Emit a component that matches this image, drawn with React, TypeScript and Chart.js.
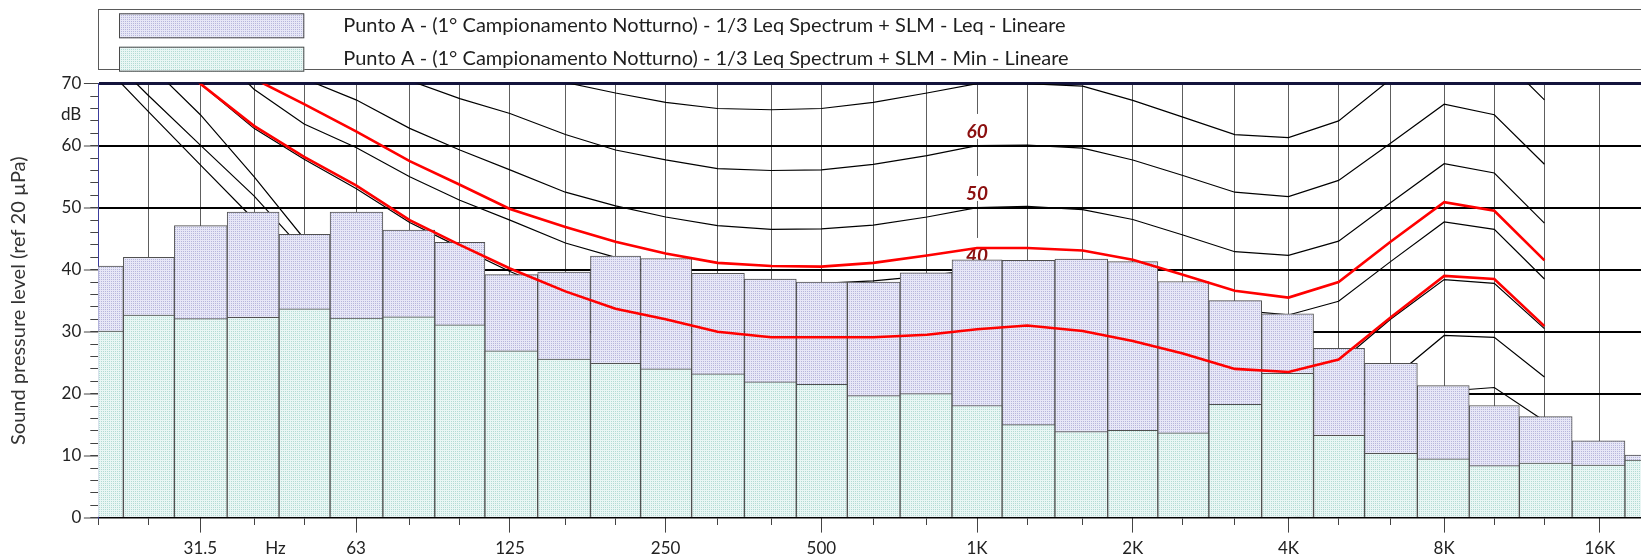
import React, { useEffect, useRef } from 'react';
import { Chart, registerables } from 'chart.js';

Chart.register(...registerables);

// 1/3-octave band centre frequencies (Hz)
const BAND_FREQS = [20, 25, 31.5, 40, 50, 63, 80, 100, 125, 160, 200, 250, 315, 400, 500, 630, 800, 1000, 1250, 1600, 2000, 2500, 3150, 4000, 5000, 6300, 8000, 10000, 12500, 16000, 20000];
// Leq spectrum (dB)
const LEQ = [40.6, 42.0, 47.1, 49.3, 45.7, 49.3, 46.4, 44.4, 39.2, 39.6, 42.2, 41.8, 39.4, 38.5, 38.0, 38.0, 39.5, 41.6, 41.5, 41.7, 41.3, 38.1, 35.0, 32.9, 27.3, 24.9, 21.3, 18.1, 16.3, 12.4, 10.1];
// Min spectrum (dB)
const MIN = [30.1, 32.7, 32.1, 32.3, 33.7, 32.2, 32.4, 31.1, 26.9, 25.6, 24.9, 24.0, 23.2, 21.9, 21.5, 19.7, 20.0, 18.1, 15.0, 13.9, 14.1, 13.7, 18.3, 23.3, 13.3, 10.4, 9.5, 8.4, 8.8, 8.5, 9.3];

// contour curves, 20 Hz .. 12.5 kHz
const CONTOUR_FREQS = [20, 25, 31.5, 40, 50, 63, 80, 100, 125, 160, 200, 250, 315, 400, 500, 630, 800, 1000, 1250, 1600, 2000, 2500, 3150, 4000, 5000, 6300, 8000, 10000, 12500];
const C0 = [73.9, 65.5, 56.9, 48.1, 40.0, 32.5, 26.0, 20.0, 14.0, 10.0, 7.0, 5.0, 3.5, 2.5, 2.0, 2.0, 2.5, 3.5, 3.5, 3.0, 1.5, 0.5, 0.0, 0.0, 1.0, 6.0, 13.0, 14.0, 8.0];
const C10 = [76.1, 68.1, 60.1, 51.9, 43.0, 35.5, 29.0, 24.0, 20.0, 16.0, 13.0, 11.0, 9.5, 8.3, 7.5, 7.8, 8.7, 10.0, 10.2, 9.7, 8.2, 5.8, 3.2, 2.5, 4.8, 12.5, 20.4, 21.0, 15.6];
const C20 = [80.0, 73.2, 65.0, 55.0, 45.0, 40.0, 35.0, 31.0, 28.0, 24.5, 21.5, 19.5, 17.8, 17.0, 16.8, 17.3, 18.5, 20.0, 20.2, 19.7, 18.2, 15.8, 13.2, 12.5, 14.8, 22.2, 29.4, 29.1, 22.7];
const C30 = [90.0, 80.0, 70.0, 62.8, 57.8, 53.1, 47.6, 43.6, 39.7, 36.0, 33.2, 31.4, 29.6, 28.7, 28.7, 28.8, 29.2, 30.0, 30.5, 29.7, 28.0, 26.0, 23.5, 23.0, 24.9, 32.0, 38.4, 37.8, 30.5];
const C40 = [95.0, 87.0, 78.0, 69.1, 63.5, 59.7, 55.0, 51.2, 48.0, 44.3, 42.0, 39.8, 38.3, 37.8, 37.8, 38.2, 39.0, 40.0, 40.3, 39.8, 38.3, 36.0, 33.5, 32.7, 34.9, 41.3, 47.7, 46.5, 38.5];
const C50 = [100.0, 92.0, 84.0, 76.0, 70.8, 67.4, 62.8, 59.3, 56.1, 52.5, 50.3, 48.5, 47.1, 46.5, 46.6, 47.2, 48.5, 50.0, 50.2, 49.7, 48.1, 45.6, 42.9, 42.3, 44.6, 50.8, 57.1, 55.6, 47.5];
const C60 = [104.0, 98.0, 91.0, 85.0, 79.5, 74.5, 70.5, 67.6, 65.2, 61.8, 59.3, 57.7, 56.3, 56.0, 56.1, 57.0, 58.4, 60.0, 60.1, 59.6, 57.7, 55.2, 52.5, 51.8, 54.4, 60.4, 66.7, 65.0, 57.0];
const C70 = [108.0, 104.0, 99.0, 94.0, 89.0, 84.0, 80.0, 76.5, 73.0, 70.2, 68.5, 67.0, 66.0, 65.8, 66.0, 67.0, 68.5, 70.0, 70.0, 69.6, 67.3, 64.6, 61.8, 61.3, 64.0, 70.7, 76.8, 75.4, 67.4];
const RED_UPPER = [95.0, 88.0, 79.0, 70.8, 66.7, 62.3, 57.5, 53.7, 49.8, 46.9, 44.5, 42.6, 41.1, 40.6, 40.5, 41.1, 42.3, 43.5, 43.5, 43.1, 41.6, 39.2, 36.6, 35.5, 38.0, 44.5, 50.9, 49.5, 41.5];
const RED_LOWER = [90.0, 80.0, 70.0, 63.2, 58.2, 53.6, 48.0, 44.0, 40.2, 36.5, 33.7, 32.0, 30.0, 29.1, 29.1, 29.1, 29.5, 30.4, 31.0, 30.1, 28.5, 26.5, 24.0, 23.5, 25.5, 32.3, 39.0, 38.5, 30.9];
const BLACK_CONTOURS = [C0, C10, C20, C30, C40, C50, C60, C70];

// labels on the contours at 1 kHz
const CONTOUR_LABELS = ['60', '50', '40'];
const CONTOUR_LABEL_LEVELS = [60, 50, 40];
const CONTOUR_LABEL_FREQ = 1000;

// axis ticks
const X_MAJOR_TICKS = [31.5, 63, 125, 250, 500, 1000, 2000, 4000, 8000, 16000];
const X_MAJOR_LABELS = ['31.5', '63', '125', '250', '500', '1K', '2K', '4K', '8K', '16K'];
const X_UNIT_POS = 44;
const X_UNIT_LABEL = 'Hz';
const X_MIN = 20;
const X_MAX = 19214;
const Y_MAJOR_TICKS = [0, 10, 20, 30, 40, 50, 60, 70];
const Y_UNIT_POS = 65;
const Y_UNIT_LABEL = 'dB';

const LEGEND_LEQ = 'Punto A - (1\u00B0 Campionamento Notturno) - 1/3 Leq Spectrum + SLM - Leq - Lineare';
const LEGEND_MIN = 'Punto A - (1\u00B0 Campionamento Notturno) - 1/3 Leq Spectrum + SLM - Min - Lineare';
const Y_TITLE = 'Sound pressure level (ref 20 \u00B5Pa)';

const FONT = 'Lato';

function makePattern(base: string, dot: string) {
  const c = document.createElement('canvas');
  c.width = 2;
  c.height = 2;
  const g = c.getContext('2d') as CanvasRenderingContext2D;
  g.fillStyle = base;
  g.fillRect(0, 0, 2, 2);
  g.fillStyle = dot;
  g.fillRect(1, 1, 1, 1);
  return g.createPattern(c, 'repeat') as CanvasPattern;
}

const boxLegend = {
  id: 'boxLegend',
  afterDraw(chart: any) {
    const ctx = chart.ctx;
    const left = chart.chartArea.left;
    ctx.save();
    ctx.strokeStyle = '#5a5a5a';
    ctx.lineWidth = 1;
    ctx.strokeRect(Math.round(left) + 0.5, 9.5, chart.width + 20, 60);
    const items = [chart.data.datasets.find((d: any) => d.label === LEGEND_LEQ), chart.data.datasets.find((d: any) => d.label === LEGEND_MIN)];
    const tops = [13.3, 46.7];
    items.forEach((ds: any, i: number) => {
      const top = tops[i];
      ctx.fillStyle = ds.backgroundColor;
      ctx.fillRect(left + 20.7, top, 185.3, 25);
      ctx.strokeStyle = '#4a4a4a';
      ctx.lineWidth = 1;
      ctx.strokeRect(left + 20.7 + 0.5, top + 0.5, 185.3 - 1, 24);
      ctx.fillStyle = '#1e1e1e';
      ctx.font = `20px ${FONT}`;
      ctx.textBaseline = 'middle';
      ctx.textAlign = 'left';
      ctx.fillText(ds.label, left + 245, top + 12.2);
    });
    ctx.restore();
  },
};

const contourLabels = {
  id: 'contourLabels',
  beforeDatasetDraw(chart: any, args: any) {
    const ds = chart.data.datasets[args.index];
    if (!ds || ds.label !== LEGEND_LEQ) return;
    const ctx = chart.ctx;
    const xs = chart.scales.x;
    const ys = chart.scales.y;
    const cx = xs.getPixelForValue(CONTOUR_LABEL_FREQ);
    ctx.save();
    ctx.font = `italic bold 19px ${FONT}`;
    ctx.textAlign = 'center';
    ctx.textBaseline = 'middle';
    CONTOUR_LABELS.forEach((t, i) => {
      const cy = ys.getPixelForValue(CONTOUR_LABEL_LEVELS[i] + 2.3);
      const w = ctx.measureText(t).width;
      ctx.fillStyle = '#ffffff';
      ctx.fillRect(cx - w / 2 - 3, cy - 17.5, w + 6, 25);
      ctx.fillStyle = '#8b0f0f';
      ctx.fillText(t, cx, cy);
    });
    ctx.restore();
  },
};

export default function App() {
  const canvasRef = useRef<HTMLCanvasElement | null>(null);

  useEffect(() => {
    const canvas = canvasRef.current;
    if (!canvas) return;
    const leqPattern = makePattern('#e7e7f6', '#b6b6dc');
    const minPattern = makePattern('#e9f6f4', '#b2dbd5');

    const xLabel = (v: number) => {
      if (v === X_UNIT_POS) return X_UNIT_LABEL;
      const i = X_MAJOR_TICKS.indexOf(v);
      return i >= 0 ? X_MAJOR_LABELS[i] : '';
    };

    const blackSets = BLACK_CONTOURS.map((arr) => ({
      type: 'line',
      label: '',
      data: CONTOUR_FREQS.map((f, i) => ({ x: f, y: arr[i] })),
      borderColor: '#000000',
      borderWidth: 1.2,
      pointRadius: 0,
      tension: 0,
      fill: false,
      order: 4,
    }));
    const redSets = [RED_UPPER, RED_LOWER].map((arr) => ({
      type: 'line',
      label: '',
      data: CONTOUR_FREQS.map((f, i) => ({ x: f, y: arr[i] })),
      borderColor: '#ff0000',
      borderWidth: 2.6,
      pointRadius: 0,
      tension: 0,
      fill: false,
      order: 1,
    }));
    const barCommon = {
      type: 'bar',
      stack: 'spectrum',
      barThickness: 'flex',
      categoryPercentage: 1,
      barPercentage: 1,
      borderWidth: 1,
      borderColor: '#505050',
      borderSkipped: 'start',
      clip: 0,
    };

    const chart = new Chart(canvas, {
      type: 'bar',
      data: {
        datasets: [
          ...blackSets,
          { ...barCommon, label: LEGEND_LEQ, data: BAND_FREQS.map((f, i) => ({ x: f, y: LEQ[i] })), backgroundColor: leqPattern, order: 3 },
          { ...barCommon, label: LEGEND_MIN, data: BAND_FREQS.map((f, i) => ({ x: f, y: MIN[i] })), backgroundColor: minPattern, order: 2 },
          ...redSets,
        ] as any,
      },
      options: {
        responsive: false,
        animation: false,
        devicePixelRatio: 1,
        layout: { padding: { top: 83.7, left: 0, right: 0, bottom: 0 } },
        plugins: { legend: { display: false }, tooltip: { enabled: false } },
        scales: {
          x: {
            type: 'logarithmic',
            min: X_MIN,
            max: X_MAX,
            offset: false,
            afterBuildTicks: (s: any) => {
              const vals = BAND_FREQS.filter((f) => f <= X_MAX).concat([X_UNIT_POS]).sort((a, b) => a - b);
              s.ticks = vals.map((v) => ({ value: v }));
            },
            afterFit: (s: any) => { s.height = 38.3; },
            ticks: {
              autoSkip: false,
              maxRotation: 0,
              minRotation: 0,
              padding: 13,
              color: '#222222',
              font: { family: FONT, size: 17 },
              callback: (v: any) => xLabel(Number(v)),
            },
            grid: {
              offset: false,
              color: (c: any) => (c.tick && c.tick.value === X_UNIT_POS ? 'rgba(0,0,0,0)' : '#5e5e5e'),
              lineWidth: 1,
              tickLength: 7.3,
              tickWidth: 1,
              tickColor: (c: any) => (c.tick && c.tick.value === X_UNIT_POS ? 'rgba(0,0,0,0)' : '#444444'),
            },
            border: { display: true, color: '#000000', width: 1.5 },
          },
          xMajor: {
            type: 'logarithmic',
            axis: 'x',
            position: { y: 0 },
            min: X_MIN,
            max: X_MAX,
            offset: false,
            afterBuildTicks: (s: any) => { s.ticks = X_MAJOR_TICKS.map((v) => ({ value: v })); },
            ticks: { display: false },
            grid: { drawOnChartArea: false, offset: false, tickLength: 14.6, tickWidth: 1, tickColor: '#444444', color: '#444444' },
            border: { display: false },
          },
          y: {
            type: 'linear',
            min: 0,
            max: 70,
            stacked: false,
            afterBuildTicks: (s: any) => {
              s.ticks = Y_MAJOR_TICKS.concat([Y_UNIT_POS]).sort((a, b) => a - b).map((v) => ({ value: v }));
            },
            afterFit: (s: any) => { s.width = 98.3; },
            ticks: {
              padding: 2.6,
              color: '#222222',
              font: { family: FONT, size: 17 },
              callback: (v: any) => (Number(v) === Y_UNIT_POS ? Y_UNIT_LABEL : String(v)),
            },
            grid: {
              color: (c: any) => {
                const v = c.tick ? c.tick.value : null;
                if (v === 70) return '#14143c';
                if (v === Y_UNIT_POS || v === 0) return 'rgba(0,0,0,0)';
                return '#000000';
              },
              lineWidth: (c: any) => (c.tick && c.tick.value === 70 ? 3 : 2),
              tickLength: 14.4,
              tickWidth: 1,
              tickColor: (c: any) => (c.tick && c.tick.value === Y_UNIT_POS ? 'rgba(0,0,0,0)' : '#444444'),
            },
            border: { display: true, color: '#3c3c9c', width: 1 },
            title: {
              display: true,
              text: Y_TITLE,
              color: '#333333',
              font: { family: FONT, size: 20 },
              padding: { top: 7, bottom: 0 },
            },
          },
          yMinor: {
            type: 'linear',
            axis: 'y',
            position: { x: X_MIN },
            min: 0,
            max: 70,
            ticks: { display: false, stepSize: 2 },
            grid: { drawOnChartArea: false, tickLength: 7.7, tickWidth: 1, tickColor: '#444444', color: '#444444' },
            border: { display: false },
          },
        },
      } as any,
      plugins: [boxLegend, contourLabels],
    });

    return () => chart.destroy();
  }, []);

  return (
    <div style={{ position: 'fixed', left: 0, top: 0, width: 1641, height: 556, background: '#ffffff' }}>
      <canvas ref={canvasRef} width={1641} height={556} style={{ display: 'block' }} />
    </div>
  );
}
